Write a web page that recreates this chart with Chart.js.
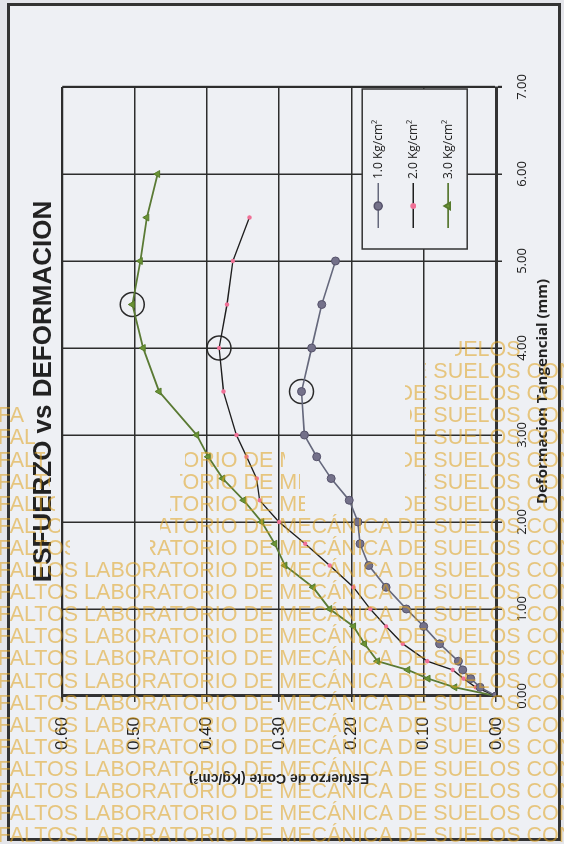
<!DOCTYPE html>
<html>
<head>
<meta charset="utf-8">
<script src="https://cdn.jsdelivr.net/npm/chart.js@4.4.1/dist/chart.umd.min.js"></script>
<style>
  html, body { margin: 0; padding: 0; }
  body { width: 564px; height: 844px; background: #e4e5ea; position: relative; overflow: hidden; }
  #frame { position: absolute; left: 7px; top: 3px; width: 554px; height: 838px; box-sizing: border-box;
           border: 3px solid #333; background: #eef0f4; }
  #wrap { position: absolute; width: 836px; height: 552px; left: -134px; top: 146px; transform: rotate(-90deg); }
  #wm { position: absolute; left: 0; top: 0; width: 564px; height: 844px; pointer-events: none; }
  .wm { position: absolute; height: 24px; overflow: hidden; }
  .wm span { position: absolute; top: 0; white-space: nowrap; line-height: 24px;
             font: 21.5px "Liberation Sans", Arial, sans-serif; color: rgba(224, 162, 30, 0.55); }
</style>
</head>
<body>
<div id="frame"></div>
<div id="wrap"><canvas id="chart" width="836" height="552"></canvas></div>
<div id="wm"></div>
<script>
// Deformacion tangencial (mm) and esfuerzo de corte (Kg/cm2) for each normal load
const def1 = [0, 0.10, 0.20, 0.30, 0.40, 0.60, 0.80, 1.00, 1.25, 1.50, 1.75, 2.00, 2.25, 2.50, 2.75, 3.00, 3.50, 4.00, 4.50, 5.00];
const stress1 = [0, 0.022, 0.035, 0.046, 0.052, 0.078, 0.100, 0.124, 0.152, 0.176, 0.188, 0.191, 0.203, 0.228, 0.248, 0.265, 0.269, 0.255, 0.241, 0.222];

const def2 = [0, 0.10, 0.20, 0.30, 0.40, 0.60, 0.80, 1.00, 1.25, 1.50, 1.75, 2.00, 2.25, 2.50, 2.75, 3.00, 3.50, 4.00, 4.50, 5.00, 5.50];
const stress2 = [0, 0.028, 0.045, 0.060, 0.095, 0.129, 0.152, 0.174, 0.197, 0.230, 0.264, 0.300, 0.327, 0.331, 0.345, 0.359, 0.377, 0.383, 0.372, 0.364, 0.341];

const def3 = [0, 0.10, 0.20, 0.30, 0.40, 0.60, 0.80, 1.00, 1.25, 1.50, 1.75, 2.00, 2.25, 2.50, 2.75, 3.00, 3.50, 4.00, 4.50, 5.00, 5.50, 6.00];
const stress3 = [0, 0.057, 0.094, 0.122, 0.164, 0.182, 0.197, 0.230, 0.253, 0.292, 0.306, 0.324, 0.349, 0.378, 0.398, 0.414, 0.466, 0.488, 0.503, 0.492, 0.483, 0.468];

// circled maximum of each curve
const peakDef = [3.50, 4.00, 4.50];
const peakStress = [0.269, 0.383, 0.503];

const seriesLabels = ['1.0 Kg/cm²', '2.0 Kg/cm²', '3.0 Kg/cm²'];

function toPoints(xs, ys) {
  return xs.map((x, i) => ({ x: x, y: ys[i] }));
}

// legend box drawn inside the plot, like the excel one
const legendBox = {
  id: 'legendBox',
  afterDraw(chart) {
    const ctx = chart.ctx;
    const a = chart.chartArea;
    const x0 = a.right - 162, y0 = a.top + 300, w = 160, h = 105;
    ctx.save();
    ctx.fillStyle = '#eef0f4';
    ctx.fillRect(x0, y0, w, h);
    ctx.strokeStyle = '#333';
    ctx.lineWidth = 1.5;
    ctx.strokeRect(x0, y0, w, h);
    chart.data.datasets.slice(0, 3).forEach((ds, i) => {
      const y = y0 + 16 + i * 35;
      ctx.strokeStyle = ds.borderColor;
      ctx.lineWidth = ds.borderWidth;
      ctx.beginPath();
      ctx.moveTo(x0 + 21, y);
      ctx.lineTo(x0 + 66, y);
      ctx.stroke();
      ctx.fillStyle = ds.pointBackgroundColor;
      ctx.strokeStyle = ds.pointBorderColor;
      Chart.helpers.drawPoint(ctx, { pointStyle: ds.pointStyle, radius: ds.pointRadius, rotation: 0, borderWidth: 1 }, x0 + 43, y);
      ctx.fillStyle = '#222';
      ctx.font = '12px "Open Sans"';
      ctx.textBaseline = 'middle';
      ctx.textAlign = 'left';
      ctx.fillText(ds.label, x0 + 70, y);
    });
    ctx.restore();
  }
};

const edgeWidth = (c, edge) => (Math.abs(c.tick.value - edge) < 1e-6 ? 2.2 : 1.5);

const ctx = document.getElementById('chart').getContext('2d');
const chart = new Chart(ctx, {
  type: 'line',
  data: {
    datasets: [
      {
        label: seriesLabels[0],
        data: toPoints(def1, stress1),
        borderColor: '#65687c',
        borderWidth: 1.6,
        pointStyle: 'circle',
        pointRadius: 4,
        pointBackgroundColor: '#74718a',
        pointBorderColor: '#55526a',
        pointBorderWidth: 1,
        tension: 0
      },
      {
        label: seriesLabels[1],
        data: toPoints(def2, stress2),
        borderColor: '#1e1e1e',
        borderWidth: 1.4,
        pointStyle: 'circle',
        pointRadius: 2.2,
        pointBackgroundColor: '#f07096',
        pointBorderColor: '#f07096',
        pointBorderWidth: 0,
        tension: 0
      },
      {
        label: seriesLabels[2],
        data: toPoints(def3, stress3),
        borderColor: '#5a7a34',
        borderWidth: 1.8,
        pointStyle: 'triangle',
        pointRadius: 4,
        pointBackgroundColor: '#6a9334',
        pointBorderColor: '#567a2c',
        pointBorderWidth: 1,
        tension: 0
      },
      {
        label: 'max',
        data: toPoints(peakDef, peakStress),
        showLine: false,
        borderColor: '#222',
        pointStyle: 'circle',
        pointRadius: 12,
        pointBackgroundColor: 'rgba(0,0,0,0)',
        pointBorderColor: '#2a2a2a',
        pointBorderWidth: 1.5
      }
    ]
  },
  options: {
    responsive: false,
    animation: false,
    layout: { padding: { left: 50, right: 83, top: 0, bottom: 0 } },
    plugins: {
      legend: { display: false },
      tooltip: { enabled: false },
      title: {
        display: true,
        fullSize: false,
        text: 'ESFUERZO vs DEFORMACION',
        color: '#222',
        font: { family: 'Liberation Sans', size: 26, weight: 'bold' },
        padding: { top: 20, bottom: 3 }
      }
    },
    scales: {
      x: {
        type: 'linear',
        min: 0,
        max: 7,
        ticks: {
          stepSize: 1,
          maxRotation: 0,
          padding: 12,
          color: '#222',
          font: { family: 'Open Sans', size: 13 },
          callback: v => v.toFixed(2)
        },
        grid: { color: '#2d2d2d', lineWidth: c => edgeWidth(c, 7), tickLength: 6 },
        border: { color: '#333', width: 3 },
        title: {
          display: true,
          text: 'Deformacion Tangencial (mm)',
          color: '#222',
          font: { family: 'Open Sans', size: 15, weight: 'bold' },
          padding: { top: 4, bottom: 8 }
        },
        afterFit: s => { s.height = 64; }
      },
      y: {
        min: 0,
        max: 0.6,
        ticks: {
          stepSize: 0.1,
          padding: 15,
          color: '#222',
          font: { family: 'Liberation Sans', size: 17 },
          callback: v => v.toFixed(2)
        },
        grid: { color: '#2d2d2d', lineWidth: c => edgeWidth(c, 0.6), tickLength: 6 },
        border: { color: '#333', width: 3 },
        title: {
          display: true,
          text: 'Esfuerzo de Corte (Kg/cm²)',
          color: '#222',
          font: { family: 'Liberation Sans', size: 14, weight: 'bold' },
          padding: { top: 4, bottom: 4 }
        },
        afterFit: s => { s.width = 94; }
      }
    }
  },
  plugins: [legendBox]
});

// watermark rows of the scanned sheet (visible pieces only)
const wmText = 'ESFALTOS LABORATORIO DE MECÁNICA DE SUELOS CON';
const wmSegs = [
  [[455, 525]],
  [[425, 564]],
  [[405, 564]],
  [[0, 25], [410, 564]],
  [[0, 35], [415, 564]],
  [[0, 45], [185, 285], [405, 564]],
  [[0, 50], [180, 300], [425, 564]],
  [[0, 55], [170, 305], [405, 564]],
  [[0, 60], [160, 564]],
  [[0, 70], [150, 564]]
];
const wm = document.getElementById('wm');
for (let k = 0; k < 23; k++) {
  const y = 349 + 22.1 * k;
  const segs = wmSegs[k] || [[0, 564]];
  segs.forEach(seg => {
    const d = document.createElement('div');
    d.className = 'wm';
    d.style.left = seg[0] + 'px';
    d.style.top = (y - 12) + 'px';
    d.style.width = (seg[1] - seg[0]) + 'px';
    const sp = document.createElement('span');
    sp.textContent = wmText;
    sp.style.left = (-31 - seg[0]) + 'px';
    d.appendChild(sp);
    wm.appendChild(d);
  });
}
</script>
</body>
</html>
